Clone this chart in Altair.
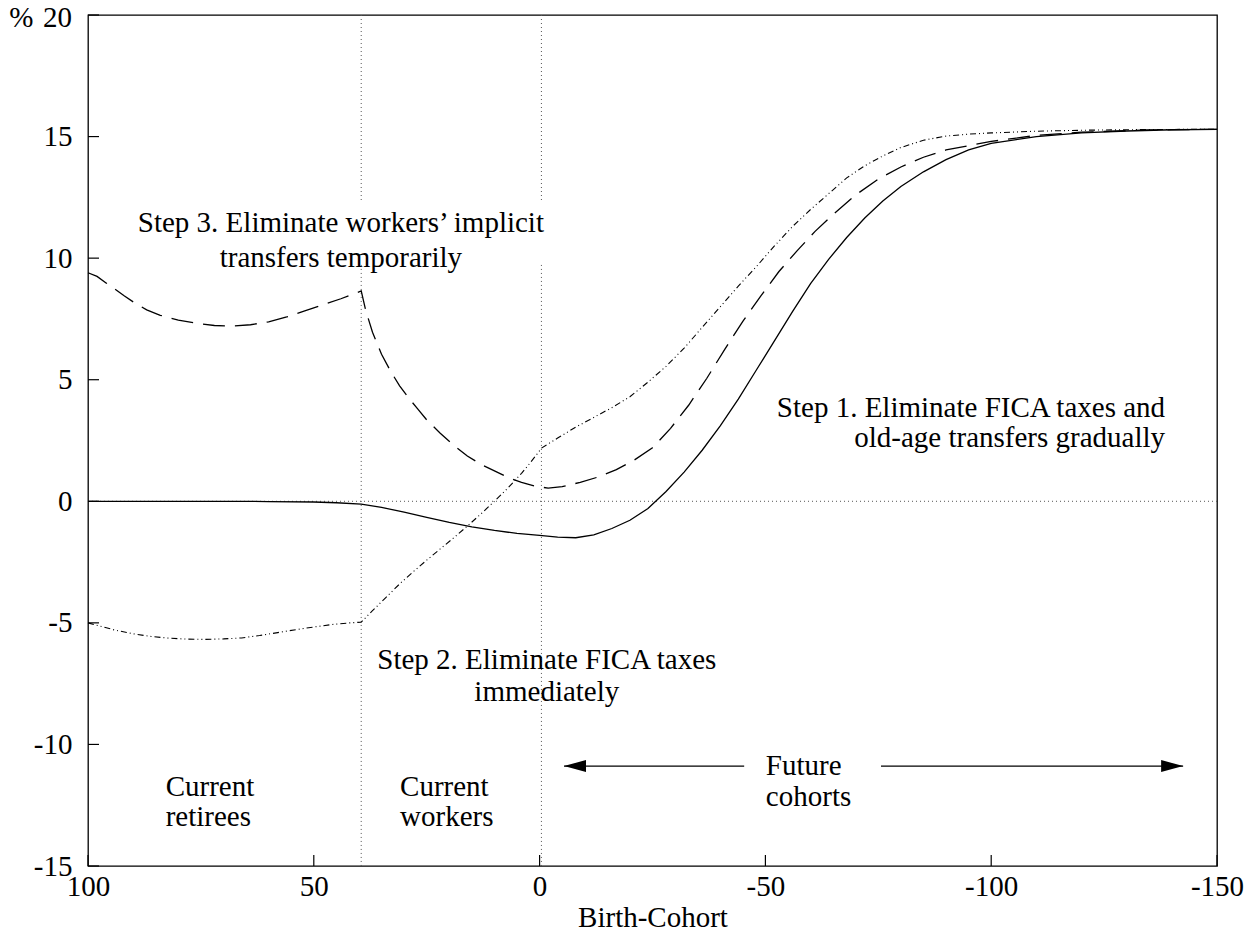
import altair as alt
import pandas as pd

FONT = "Liberation Serif"
FS = 29

# ---- data ----
cohort_step1 = [100, 90, 80, 70, 60, 50, 45, 39.5, 35, 30, 25, 20, 15, 10, 5, 0, -4, -8, -12, -16,
                -20, -24, -28, -32, -36, -40, -44, -48, -52, -56, -60, -64, -68, -72, -76, -80, -85,
                -90, -95, -100, -110, -120, -130, -140, -150]
value_step1 = [0, 0, 0, 0, -0.01, -0.03, -0.06, -0.12, -0.25, -0.45, -0.66, -0.87, -1.05, -1.2, -1.32,
               -1.4, -1.47, -1.5, -1.38, -1.12, -0.78, -0.3, 0.4, 1.2, 2.1, 3.1, 4.2, 5.4, 6.6, 7.8,
               8.95, 9.95, 10.85, 11.65, 12.35, 12.95, 13.55, 14.05, 14.45, 14.72, 15.0, 15.15, 15.23,
               15.28, 15.3]

cohort_step3 = [100, 98, 96, 94, 92, 90, 87, 84, 80, 76, 72, 68, 64, 60, 56, 52, 48, 44, 39.5, 38.5,
                37, 35, 33, 31, 29, 27, 25, 22, 19, 16, 13, 10, 7, 4, 1, -1.9, -5, -9, -13, -17, -21,
                -25, -29, -33, -37, -41, -45, -49, -53, -57, -61, -65, -70, -75, -80, -85, -90, -100,
                -110, -120, -135, -150]
value_step3 = [9.4, 9.25, 8.98, 8.72, 8.45, 8.2, 7.87, 7.65, 7.45, 7.32, 7.23, 7.21, 7.26, 7.38, 7.58,
               7.83, 8.08, 8.33, 8.65, 7.85, 6.95, 6.05, 5.35, 4.75, 4.25, 3.8, 3.35, 2.8, 2.3, 1.86,
               1.52, 1.25, 0.98, 0.78, 0.62, 0.54, 0.6, 0.78, 1.0, 1.3, 1.7, 2.2, 3.0, 3.95, 5.05,
               6.25, 7.4, 8.45, 9.45, 10.3, 11.1, 11.8, 12.6, 13.25, 13.75, 14.15, 14.45, 14.8, 15.05,
               15.18, 15.27, 15.3]

cohort_step2 = [100, 97, 94, 90, 86, 82, 78, 74, 70, 66, 62, 58, 54, 50, 46, 42, 39.5, 37, 34, 31, 28,
                25, 22, 19, 16, 13, 10, 7, 4, 2, -0.5, -4, -8, -12, -16, -20, -24, -28, -32, -36, -40,
                -44, -48, -52, -56, -60, -64, -68, -72, -76, -80, -85, -90, -95, -100, -110, -120,
                -135, -150]
value_step2 = [-5.0, -5.15, -5.3, -5.45, -5.56, -5.63, -5.67, -5.68, -5.66, -5.62, -5.52, -5.4, -5.28,
               -5.17, -5.07, -5.0, -4.97, -4.5, -3.95, -3.4, -2.9, -2.42, -1.96, -1.5, -1.02, -0.52,
               0.0, 0.55, 1.15, 1.6, 2.2, 2.6, 3.05, 3.45, 3.85, 4.3, 4.9, 5.55, 6.3, 7.15, 8.0, 8.85,
               9.65, 10.5, 11.3, 12.0, 12.65, 13.3, 13.8, 14.2, 14.55, 14.85, 15.02, 15.1, 15.15,
               15.22, 15.26, 15.29, 15.3]

x_ticks = [100, 50, 0, -50, -100, -150]
y_ticks = [-15, -10, -5, 0, 5, 10, 15, 20]
y_top_label = ["%\u00a0\u200a20"]
y_top_value = [20]

# group boundaries (vertical dotted lines), broken behind the Step 3 note
vline_x = [39.5, 39.5, -0.4, -0.4]
vline_y = [20, 9.72, 20, 9.72]
vline_y2 = [12.31, -15, 12.31, -15]

# annotations
center_text = ["Step 3. Eliminate workers\u2019 implicit", "transfers temporarily",
               "Step 2. Eliminate FICA taxes", "immediately"]
center_x = [44.0, 44.0, -1.6, -1.6]
center_y = [11.44, 10.0, -6.53, -7.85]

right_text = ["Step 1. Eliminate FICA taxes and", "old-age transfers gradually"]
right_x = [-138.5, -138.5]
right_y = [3.83, 2.60]

left_text = ["Current", "retirees", "Current", "workers", "Future", "cohorts"]
left_x = [82.8, 82.8, 30.9, 30.9, -50.1, -50.1]
left_y = [-11.76, -12.99, -11.76, -12.99, -10.89, -12.17]

arrow_from = [-45.3, -75.6]
arrow_to = [-5.4, -142.5]
arrow_y = [-10.89, -10.89]

# ---- chart ----
W, H = 1129, 851
xs = alt.Scale(domain=[-150, 100], reverse=True, nice=False, zero=False)
ys = alt.Scale(domain=[-15, 20], nice=False, zero=False)

x_axis = alt.Axis(values=x_ticks, labelExpr="toString(datum.value)", title="Birth-Cohort",
                  domain=False, ticks=False, tickSize=0, grid=False, labelFont=FONT,
                  labelFontSize=FS, labelColor="black", labelPadding=6, labelFlush=False,
                  labelOverlap=False, titleFont=FONT, titleFontSize=FS, titleFontWeight="normal",
                  titleColor="black", titlePadding=2)
y_axis = alt.Axis(values=y_ticks,
                  labelExpr="datum.value == 20 ? '' : toString(datum.value)",
                  title=None, domain=False, ticks=False, tickSize=0, grid=False, labelFont=FONT,
                  labelFontSize=FS, labelColor="black", labelPadding=16, labelFlush=False,
                  labelOverlap=False, labelBaseline="middle")


def X(field):
    return alt.X(field, scale=xs, axis=x_axis)


def Y(field):
    return alt.Y(field, scale=ys, axis=y_axis)


def series(xv, yv):
    return pd.DataFrame({"cohort": xv, "value": yv})


zero_line = alt.Chart(pd.DataFrame({"x": [100], "x2": [-150], "y": [0]})).mark_rule(
    color="#555", strokeWidth=1, strokeDash=[1, 3]).encode(x=X("x:Q"), x2="x2:Q", y=Y("y:Q"))

vlines = alt.Chart(pd.DataFrame({"x": vline_x, "y": vline_y, "y2": vline_y2})).mark_rule(
    color="#555", strokeWidth=1, strokeDash=[1, 3]).encode(x=X("x:Q"), y=Y("y:Q"), y2="y2:Q")


def curve(xv, yv, **kw):
    return alt.Chart(series(xv, yv)).mark_line(color="black", **kw).encode(
        x=X("cohort:Q"), y=Y("value:Q"))


l1 = curve(cohort_step1, value_step1, strokeWidth=1.3)
l3 = curve(cohort_step3, value_step3, strokeWidth=1.3, strokeDash=[22, 10])
l2 = curve(cohort_step2, value_step2, strokeWidth=1.1, strokeDash=[6, 3, 1, 3, 1, 3])


def notes(texts, xv, yv, align):
    return alt.Chart(pd.DataFrame({"t": texts, "x": xv, "y": yv})).mark_text(
        font=FONT, fontSize=FS, color="black", align=align, baseline="middle").encode(
        x=X("x:Q"), y=Y("y:Q"), text="t:N")


t_c = notes(center_text, center_x, center_y, "center")
t_r = notes(right_text, right_x, right_y, "right")
t_l = notes(left_text, left_x, left_y, "left")

# top y-axis label "% 20", nudged a little down so it is not clipped by the page edge
t_top = alt.Chart(pd.DataFrame({"t": y_top_label, "y": y_top_value})).mark_text(
    font=FONT, fontSize=FS, color="black", align="right", baseline="middle", dy=3).encode(
    x=alt.value(-16), y=Y("y:Q"), text="t:N")

arrow_df = pd.DataFrame({"x": arrow_from, "x2": arrow_to, "y": arrow_y})
arrow_lines = alt.Chart(arrow_df).mark_rule(color="black", strokeWidth=1.3).encode(
    x=X("x:Q"), x2="x2:Q", y=Y("y:Q"))

head_left = alt.Chart(pd.DataFrame({"x": [arrow_to[0]], "y": [arrow_y[0]]})).mark_point(
    shape="M 0 0 L 2 -0.55 L 2 0.55 Z", filled=True, color="black", opacity=1, size=484,
    strokeWidth=0).encode(x=X("x:Q"), y=Y("y:Q"))
head_right = alt.Chart(pd.DataFrame({"x": [arrow_to[1]], "y": [arrow_y[1]]})).mark_point(
    shape="M 0 0 L -2 -0.55 L -2 0.55 Z", filled=True, color="black", opacity=1, size=484,
    strokeWidth=0).encode(x=X("x:Q"), y=Y("y:Q"))

y_tick_marks = alt.Chart(pd.DataFrame({"v": y_ticks})).mark_rule(color="black", strokeWidth=1.2).encode(
    y=Y("v:Q"), x=alt.value(0), x2=alt.value(11))
x_tick_marks = alt.Chart(pd.DataFrame({"v": x_ticks})).mark_rule(color="black", strokeWidth=1.2).encode(
    x=X("v:Q"), y=alt.value(H), y2=alt.value(H - 11))

chart = alt.layer(zero_line, vlines, l1, l3, l2, t_c, t_r, t_l, t_top, arrow_lines, head_left,
                  head_right, y_tick_marks, x_tick_marks).properties(
    width=W, height=H,
    autosize=alt.AutoSizeParams(type="none"),
    padding={"left": 80, "top": 7, "right": 27, "bottom": 70},
    background="white",
).configure_view(stroke="black", strokeWidth=1.3)

chart.save("out.html", embed_options={"renderer": "svg", "actions": False})
